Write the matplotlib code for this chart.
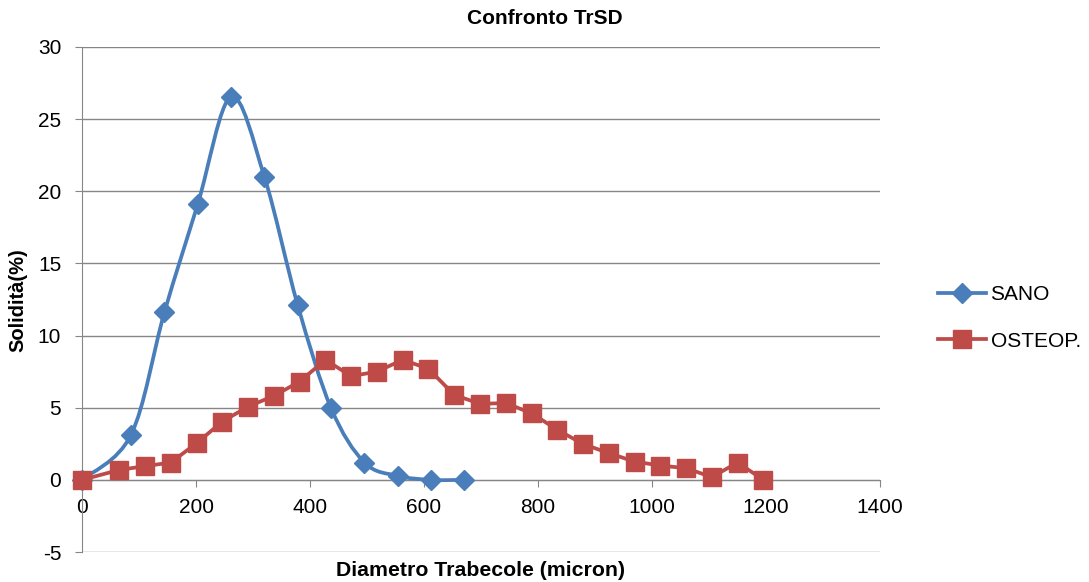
import numpy as np
import matplotlib
from matplotlib import pyplot as plt
from matplotlib.path import Path
from matplotlib.patches import PathPatch
from matplotlib.lines import Line2D

matplotlib.use("Agg")

# data
sano_x = [0, 86, 144.5, 203, 261.5, 320, 378.5, 437, 495.5, 554, 612.5, 671]
sano_y = [0, 3.12, 11.6, 19.1, 26.55, 21.0, 12.1, 4.97, 1.2, 0.28, 0, 0]

osteo_x = [0, 65.4, 110.6, 155.8, 201, 246.2, 291.4, 336.6, 381.8, 427, 472.2,
           517.4, 562.6, 607.8, 653, 698.2, 743.4, 788.6, 833.8, 879, 924.2,
           969.4, 1014.6, 1059.8, 1105, 1150.2, 1195.4]
osteo_y = [0, 0.69, 0.95, 1.2, 2.54, 4.04, 5.08, 5.82, 6.81, 8.32, 7.19,
           7.5, 8.32, 7.7, 5.89, 5.27, 5.32, 4.62, 3.47, 2.49, 1.85,
           1.27, 0.99, 0.81, 0.19, 1.2, 0]

BLUE = "#4A7EBB"
RED = "#BE4B48"
GRID = "#868686"

plt.rcParams["font.family"] = "Liberation Sans"
plt.rcParams["axes.unicode_minus"] = False


def smooth_path(xs, ys):
    # excel-like smoothed line: bezier segments with catmull-rom handles
    p = np.column_stack([xs, ys]).astype(float)
    ext = np.vstack([p[0], p, p[-1]])
    verts = [p[0]]
    codes = [Path.MOVETO]
    for i in range(len(p) - 1):
        p0, p1, p2, p3 = ext[i], ext[i + 1], ext[i + 2], ext[i + 3]
        c1 = p1 + (p2 - p0) / 6
        c2 = p2 - (p3 - p1) / 6
        verts += [c1, c2, p2]
        codes += [Path.CURVE4] * 3
    return Path(verts, codes)


fig = plt.figure(figsize=(10.89, 5.82), dpi=100)
ax = fig.add_axes([82 / 1089, 1 - 552 / 582, 798 / 1089, 505 / 582])

ax.set_xlim(0, 1400)
ax.set_ylim(-5, 30)
ax.set_yticks(range(-5, 31, 5))
ax.set_xticks(range(0, 1401, 200))
ax.yaxis.grid(True, color=GRID, linewidth=1)
ax.set_axisbelow(True)

for s in ["top", "right"]:
    ax.spines[s].set_visible(False)
ax.spines["left"].set_color(GRID)
ax.spines["bottom"].set_color(GRID)
ax.spines["bottom"].set_position(("data", 0))
ax.tick_params(axis="both", colors=GRID, labelcolor="black", labelsize=15, length=5)
ax.tick_params(axis="x", pad=8)
ax.tick_params(axis="y", pad=10)

ax.add_patch(PathPatch(smooth_path(sano_x, sano_y), facecolor="none", edgecolor=BLUE,
                       linewidth=2.7, zorder=3, clip_on=False))
ax.plot(sano_x, sano_y, linestyle="none", marker="D", color=BLUE, markersize=10,
        zorder=4, clip_on=False)
ax.plot(osteo_x, osteo_y, color=RED, linewidth=2.7, marker="s", markersize=13.5,
        zorder=5, clip_on=False)

fig.text(0.5, 1 - 19 / 582, "Confronto TrSD", ha="center", va="center",
         fontsize=15, fontweight="bold")
fig.text(481 / 1089, 1 - 570 / 582, "Diametro Trabecole (micron)", ha="center",
         va="center", fontsize=15.3, fontweight="bold")
fig.text(18 / 1089, 1 - 300 / 582, "Solidità(%)", rotation=90, ha="center",
         va="center", fontsize=14.5, fontweight="bold")

handles = [
    Line2D([], [], color=BLUE, linewidth=2.7, marker="D", markersize=10),
    Line2D([], [], color=RED, linewidth=2.7, marker="s", markersize=13.5),
]
fig.legend(handles, ["SANO", "OSTEOP."], loc="center left",
           bbox_to_anchor=(928 / 1089, 1 - 318 / 582), frameon=False,
           fontsize=15, handlelength=2.3, handletextpad=0.2, labelspacing=1.3,
           borderpad=0)

fig.savefig("out.png", dpi=100)
plt.close(fig)
